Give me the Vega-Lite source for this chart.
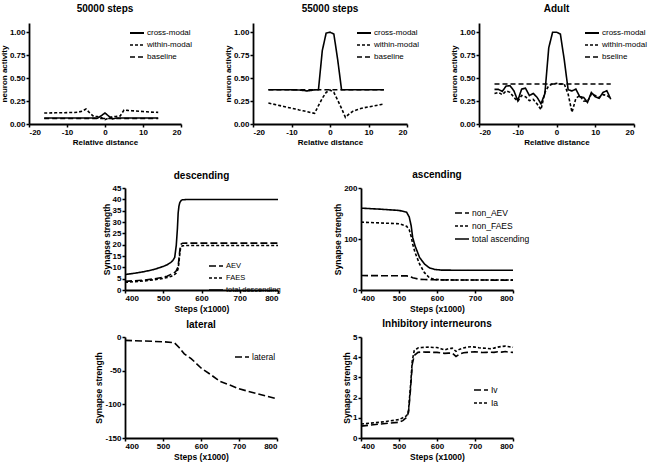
{
  "$schema": "https://vega.github.io/schema/vega-lite/v6.json",
  "padding": {"top": 4, "left": 0, "right": 2, "bottom": 2},
  "background": "white",
  "config": {
    "font": "Liberation Sans",
    "view": {"stroke": null},
    "axis": {"domainColor": "black", "domainWidth": 1.8, "tickColor": "black", "tickWidth": 1.5, "tickSize": 3, "labelColor": "black", "labelFont": "Liberation Sans", "labelFontWeight": "bold", "labelFontSize": 8, "labelPadding": 1, "titleColor": "black", "titleFont": "Liberation Sans", "titleFontWeight": "bold", "titleFontSize": 8.5, "grid": false, "titlePadding": 2},
    "axisY": {"titlePadding": 1},
    "title": {"fontSize": 10, "fontWeight": "bold", "color": "black", "frame": "group", "font": "Liberation Sans"},
    "legend": {"orient": "none", "labelFontSize": 8.5, "labelColor": "black", "labelFont": "Liberation Sans", "symbolType": "stroke", "symbolStrokeColor": "black", "symbolStrokeWidth": 1.5, "symbolSize": 196, "rowPadding": -3, "padding": 0, "labelOffset": 2},
    "line": {"color": "black", "strokeWidth": 1.6}
  },
  "resolve": {"scale": {"strokeDash": "independent", "strokeWidth": "independent"}, "legend": {"strokeDash": "independent"}},
  "spacing": 24,
  "vconcat": [
    {
      "hconcat": [
        {
          "width": 152, "height": 101,
          "title": {"text": "50000 steps", "offset": 9},
          "data": {"values": [
            {"x": -16, "cross-modal": 0.065, "within-modal": 0.12, "baseline": 0.06},
            {"x": -15, "cross-modal": 0.065, "within-modal": 0.12, "baseline": 0.06},
            {"x": -14, "cross-modal": 0.065, "within-modal": 0.121, "baseline": 0.06},
            {"x": -13, "cross-modal": 0.065, "within-modal": 0.122, "baseline": 0.06},
            {"x": -12, "cross-modal": 0.065, "within-modal": 0.122, "baseline": 0.06},
            {"x": -11, "cross-modal": 0.065, "within-modal": 0.123, "baseline": 0.06},
            {"x": -10, "cross-modal": 0.065, "within-modal": 0.124, "baseline": 0.06},
            {"x": -9, "cross-modal": 0.065, "within-modal": 0.125, "baseline": 0.06},
            {"x": -8, "cross-modal": 0.065, "within-modal": 0.126, "baseline": 0.06},
            {"x": -7, "cross-modal": 0.065, "within-modal": 0.13, "baseline": 0.06},
            {"x": -6, "cross-modal": 0.065, "within-modal": 0.14, "baseline": 0.06},
            {"x": -5, "cross-modal": 0.065, "within-modal": 0.163, "baseline": 0.06},
            {"x": -4, "cross-modal": 0.065, "within-modal": 0.12, "baseline": 0.06},
            {"x": -3, "cross-modal": 0.065, "within-modal": 0.083, "baseline": 0.06},
            {"x": -2, "cross-modal": 0.062, "within-modal": 0.08, "baseline": 0.06},
            {"x": -1, "cross-modal": 0.09, "within-modal": 0.07, "baseline": 0.06},
            {"x": 0, "cross-modal": 0.12, "within-modal": 0.047, "baseline": 0.06},
            {"x": 1, "cross-modal": 0.085, "within-modal": 0.065, "baseline": 0.06},
            {"x": 2, "cross-modal": 0.055, "within-modal": 0.08, "baseline": 0.06},
            {"x": 3, "cross-modal": 0.065, "within-modal": 0.083, "baseline": 0.06},
            {"x": 4, "cross-modal": 0.065, "within-modal": 0.088, "baseline": 0.06},
            {"x": 5, "cross-modal": 0.065, "within-modal": 0.152, "baseline": 0.06},
            {"x": 6, "cross-modal": 0.065, "within-modal": 0.148, "baseline": 0.06},
            {"x": 7, "cross-modal": 0.065, "within-modal": 0.145, "baseline": 0.06},
            {"x": 8, "cross-modal": 0.065, "within-modal": 0.142, "baseline": 0.06},
            {"x": 9, "cross-modal": 0.065, "within-modal": 0.139, "baseline": 0.06},
            {"x": 10, "cross-modal": 0.065, "within-modal": 0.136, "baseline": 0.06},
            {"x": 11, "cross-modal": 0.065, "within-modal": 0.133, "baseline": 0.06},
            {"x": 12, "cross-modal": 0.065, "within-modal": 0.13, "baseline": 0.06},
            {"x": 13, "cross-modal": 0.065, "within-modal": 0.128, "baseline": 0.06},
            {"x": 14, "cross-modal": 0.065, "within-modal": 0.127, "baseline": 0.06}
          ]},
          "transform": [{"fold": ["cross-modal", "within-modal", "baseline"], "as": ["series", "y"]}],
          "mark": {"type": "line"},
          "encoding": {
            "x": {"field": "x", "type": "quantitative", "scale": {"domain": [-20, 20], "nice": false}, "axis": {"values": [-20, -10, 0, 10, 20], "title": "Relative distance", "titleFontSize": 8, "labelExpr": "replace(datum.label, '−', '-')"}},
            "y": {"field": "y", "type": "quantitative", "scale": {"domain": [0, 1.1], "nice": false}, "axis": {"values": [0, 0.25, 0.5, 0.75, 1], "format": ".2f", "title": "neuron activity", "titleFontSize": 8}},
            "strokeDash": {"field": "series", "type": "nominal", "scale": {"domain": ["cross-modal", "within-modal", "baseline"], "range": [[1, 0], [3, 2], [5, 3]]}, "legend": {"title": null, "legendX": 100, "legendY": 2, "labelFontSize": 8}},
            "strokeWidth": {"field": "series", "type": "nominal", "scale": {"domain": ["cross-modal", "within-modal", "baseline"], "range": [1.8, 1.6, 1]}, "legend": null}
          }
        },
        {
          "width": 154, "height": 101,
          "title": {"text": "55000 steps", "offset": 9},
          "data": {"values": [
            {"x": -16, "cross-modal": 0.373, "within-modal": 0.228, "baseline": 0.373},
            {"x": -15, "cross-modal": 0.373, "within-modal": 0.219, "baseline": 0.373},
            {"x": -14, "cross-modal": 0.373, "within-modal": 0.209, "baseline": 0.373},
            {"x": -13, "cross-modal": 0.373, "within-modal": 0.2, "baseline": 0.373},
            {"x": -12, "cross-modal": 0.373, "within-modal": 0.191, "baseline": 0.373},
            {"x": -11, "cross-modal": 0.373, "within-modal": 0.181, "baseline": 0.373},
            {"x": -10, "cross-modal": 0.372, "within-modal": 0.172, "baseline": 0.373},
            {"x": -9, "cross-modal": 0.372, "within-modal": 0.163, "baseline": 0.373},
            {"x": -8, "cross-modal": 0.37, "within-modal": 0.153, "baseline": 0.373},
            {"x": -7, "cross-modal": 0.366, "within-modal": 0.144, "baseline": 0.373},
            {"x": -6, "cross-modal": 0.36, "within-modal": 0.135, "baseline": 0.373},
            {"x": -5, "cross-modal": 0.365, "within-modal": 0.125, "baseline": 0.373},
            {"x": -4, "cross-modal": 0.372, "within-modal": 0.116, "baseline": 0.373},
            {"x": -3, "cross-modal": 0.373, "within-modal": 0.2, "baseline": 0.373},
            {"x": -2, "cross-modal": 0.8, "within-modal": 0.28, "baseline": 0.373},
            {"x": -1, "cross-modal": 0.99, "within-modal": 0.344, "baseline": 0.373},
            {"x": 0, "cross-modal": 1.0, "within-modal": 0.37, "baseline": 0.373},
            {"x": 1, "cross-modal": 0.98, "within-modal": 0.344, "baseline": 0.373},
            {"x": 2, "cross-modal": 0.7, "within-modal": 0.26, "baseline": 0.373},
            {"x": 3, "cross-modal": 0.373, "within-modal": 0.17, "baseline": 0.373},
            {"x": 4, "cross-modal": 0.373, "within-modal": 0.072, "baseline": 0.373},
            {"x": 5, "cross-modal": 0.373, "within-modal": 0.11, "baseline": 0.373},
            {"x": 6, "cross-modal": 0.373, "within-modal": 0.14, "baseline": 0.373},
            {"x": 7, "cross-modal": 0.373, "within-modal": 0.155, "baseline": 0.373},
            {"x": 8, "cross-modal": 0.373, "within-modal": 0.168, "baseline": 0.373},
            {"x": 9, "cross-modal": 0.373, "within-modal": 0.178, "baseline": 0.373},
            {"x": 10, "cross-modal": 0.373, "within-modal": 0.186, "baseline": 0.373},
            {"x": 11, "cross-modal": 0.373, "within-modal": 0.194, "baseline": 0.373},
            {"x": 12, "cross-modal": 0.373, "within-modal": 0.202, "baseline": 0.373},
            {"x": 13, "cross-modal": 0.373, "within-modal": 0.21, "baseline": 0.373},
            {"x": 14, "cross-modal": 0.373, "within-modal": 0.217, "baseline": 0.373}
          ]},
          "transform": [{"fold": ["cross-modal", "within-modal", "baseline"], "as": ["series", "y"]}],
          "mark": {"type": "line"},
          "encoding": {
            "x": {"field": "x", "type": "quantitative", "scale": {"domain": [-20, 20], "nice": false}, "axis": {"values": [-20, -10, 0, 10, 20], "title": "Relative distance", "titleFontSize": 8, "labelExpr": "replace(datum.label, '−', '-')"}},
            "y": {"field": "y", "type": "quantitative", "scale": {"domain": [0, 1.1], "nice": false}, "axis": {"values": [0, 0.25, 0.5, 0.75, 1], "format": ".2f", "title": "neuron activity", "titleFontSize": 8}},
            "strokeDash": {"field": "series", "type": "nominal", "scale": {"domain": ["cross-modal", "within-modal", "baseline"], "range": [[1, 0], [3, 2], [5, 3]]}, "legend": {"title": null, "legendX": 103, "legendY": 2, "labelFontSize": 8}},
            "strokeWidth": {"field": "series", "type": "nominal", "scale": {"domain": ["cross-modal", "within-modal", "baseline"], "range": [1.8, 1.6, 1]}, "legend": null}
          }
        },
        {
          "width": 155, "height": 101,
          "title": {"text": "Adult", "offset": 9},
          "data": {"values": [
            {"x": -16, "cross-modal": 0.377, "within-modal": 0.333, "bseline": 0.435},
            {"x": -15, "cross-modal": 0.377, "within-modal": 0.344, "bseline": 0.435},
            {"x": -14, "cross-modal": 0.355, "within-modal": 0.32, "bseline": 0.435},
            {"x": -13, "cross-modal": 0.413, "within-modal": 0.36, "bseline": 0.435},
            {"x": -12, "cross-modal": 0.417, "within-modal": 0.345, "bseline": 0.435},
            {"x": -11, "cross-modal": 0.362, "within-modal": 0.29, "bseline": 0.435},
            {"x": -10, "cross-modal": 0.254, "within-modal": 0.246, "bseline": 0.435},
            {"x": -9, "cross-modal": 0.38, "within-modal": 0.31, "bseline": 0.435},
            {"x": -8, "cross-modal": 0.39, "within-modal": 0.297, "bseline": 0.435},
            {"x": -7, "cross-modal": 0.31, "within-modal": 0.254, "bseline": 0.435},
            {"x": -6, "cross-modal": 0.333, "within-modal": 0.268, "bseline": 0.435},
            {"x": -5, "cross-modal": 0.29, "within-modal": 0.217, "bseline": 0.435},
            {"x": -4, "cross-modal": 0.22, "within-modal": 0.156, "bseline": 0.435},
            {"x": -3, "cross-modal": 0.33, "within-modal": 0.344, "bseline": 0.435},
            {"x": -2, "cross-modal": 0.83, "within-modal": 0.417, "bseline": 0.435},
            {"x": -1, "cross-modal": 1.0, "within-modal": 0.435, "bseline": 0.435},
            {"x": 0, "cross-modal": 1.0, "within-modal": 0.442, "bseline": 0.435},
            {"x": 1, "cross-modal": 0.98, "within-modal": 0.435, "bseline": 0.435},
            {"x": 2, "cross-modal": 0.7, "within-modal": 0.435, "bseline": 0.435},
            {"x": 3, "cross-modal": 0.373, "within-modal": 0.326, "bseline": 0.435},
            {"x": 4, "cross-modal": 0.36, "within-modal": 0.127, "bseline": 0.435},
            {"x": 5, "cross-modal": 0.38, "within-modal": 0.28, "bseline": 0.435},
            {"x": 6, "cross-modal": 0.297, "within-modal": 0.31, "bseline": 0.435},
            {"x": 7, "cross-modal": 0.29, "within-modal": 0.25, "bseline": 0.435},
            {"x": 8, "cross-modal": 0.235, "within-modal": 0.246, "bseline": 0.435},
            {"x": 9, "cross-modal": 0.344, "within-modal": 0.326, "bseline": 0.435},
            {"x": 10, "cross-modal": 0.297, "within-modal": 0.31, "bseline": 0.435},
            {"x": 11, "cross-modal": 0.28, "within-modal": 0.29, "bseline": 0.435},
            {"x": 12, "cross-modal": 0.344, "within-modal": 0.32, "bseline": 0.435},
            {"x": 13, "cross-modal": 0.362, "within-modal": 0.31, "bseline": 0.435},
            {"x": 14, "cross-modal": 0.27, "within-modal": 0.28, "bseline": 0.435}
          ]},
          "transform": [{"fold": ["cross-modal", "within-modal", "bseline"], "as": ["series", "y"]}],
          "mark": {"type": "line"},
          "encoding": {
            "x": {"field": "x", "type": "quantitative", "scale": {"domain": [-20, 20], "nice": false}, "axis": {"values": [-20, -10, 0, 10, 20], "title": "Relative distance", "titleFontSize": 8, "labelExpr": "replace(datum.label, '−', '-')"}},
            "y": {"field": "y", "type": "quantitative", "scale": {"domain": [0, 1.1], "nice": false}, "axis": {"values": [0, 0.25, 0.5, 0.75, 1], "format": ".2f", "title": "neuron activity", "titleFontSize": 8}},
            "strokeDash": {"field": "series", "type": "nominal", "scale": {"domain": ["cross-modal", "within-modal", "bseline"], "range": [[1, 0], [3, 2], [5, 3]]}, "legend": {"title": null, "legendX": 105, "legendY": 2, "labelFontSize": 8}},
            "strokeWidth": {"field": "series", "type": "nominal", "scale": {"domain": ["cross-modal", "within-modal", "bseline"], "range": [1.8, 1.6, 1]}, "legend": null}
          }
        }
      ],
      "spacing": 72,
      "bounds": "flush",
      "resolve": {"scale": {"strokeDash": "independent", "strokeWidth": "independent"}, "legend": {"strokeDash": "independent"}}
    },
    {
      "hconcat": [
        {"width": 14, "height": 10, "data": {"values": []}, "mark": "rule", "encoding": {}},
        {
          "vconcat": [
            {
              "width": 153, "height": 102,
              "title": {"text": "descending", "offset": 3},
              "data": {"values": [
                {"x": 400, "AEV": 3.8, "FAES": 3.4, "total descending": 6.8},
                {"x": 425, "AEV": 4.1, "FAES": 3.7, "total descending": 7.4},
                {"x": 450, "AEV": 4.4, "FAES": 4.0, "total descending": 8.1},
                {"x": 475, "AEV": 4.9, "FAES": 4.5, "total descending": 9.0},
                {"x": 500, "AEV": 5.6, "FAES": 5.1, "total descending": 10.4},
                {"x": 510, "AEV": 6.1, "FAES": 5.5, "total descending": 11.1},
                {"x": 520, "AEV": 6.9, "FAES": 6.0, "total descending": 12.2},
                {"x": 525, "AEV": 7.3, "FAES": 6.4, "total descending": 13.0},
                {"x": 530, "AEV": 7.8, "FAES": 6.9, "total descending": 14.4},
                {"x": 534, "AEV": 8.5, "FAES": 7.5, "total descending": 19.6},
                {"x": 537, "AEV": 9.5, "FAES": 8.5, "total descending": 27},
                {"x": 539, "AEV": 10.5, "FAES": 9.5, "total descending": 34},
                {"x": 541, "AEV": 13.7, "FAES": 12.2, "total descending": 37},
                {"x": 543, "AEV": 17, "FAES": 15.5, "total descending": 38.4},
                {"x": 545, "AEV": 19.3, "FAES": 18.2, "total descending": 39.1},
                {"x": 547, "AEV": 20.3, "FAES": 19.1, "total descending": 39.5},
                {"x": 550, "AEV": 20.6, "FAES": 19.5, "total descending": 39.8},
                {"x": 560, "AEV": 20.7, "FAES": 19.6, "total descending": 39.9},
                {"x": 600, "AEV": 20.7, "FAES": 19.6, "total descending": 39.9},
                {"x": 700, "AEV": 20.7, "FAES": 19.6, "total descending": 39.9},
                {"x": 800, "AEV": 20.7, "FAES": 19.6, "total descending": 39.9}
              ]},
              "transform": [{"fold": ["AEV", "FAES", "total descending"], "as": ["series", "y"]}],
              "mark": {"type": "line", "strokeWidth": 1.6},
              "encoding": {
                "x": {"field": "x", "type": "quantitative", "scale": {"domain": [400, 800], "nice": false}, "axis": {"values": [400, 500, 600, 700, 800], "title": "Steps (x1000)"}},
                "y": {"field": "y", "type": "quantitative", "scale": {"domain": [0, 45], "nice": false}, "axis": {"values": [0, 5, 10, 15, 20, 25, 30, 35, 40, 45], "title": "Synapse strength"}},
                "strokeDash": {"field": "series", "type": "nominal", "scale": {"domain": ["AEV", "FAES", "total descending"], "range": [[7, 3], [3, 2], [1, 0]]}, "legend": {"title": null, "legendX": 83, "legendY": 70, "labelFontSize": 7.5}}
              }
            },
            {
              "width": 152, "height": 101,
              "title": {"text": "lateral", "offset": 3},
              "data": {"values": [
                {"x": 400, "lateral": -5},
                {"x": 450, "lateral": -6},
                {"x": 500, "lateral": -7},
                {"x": 530, "lateral": -8.5},
                {"x": 543, "lateral": -16},
                {"x": 556, "lateral": -25},
                {"x": 574, "lateral": -32},
                {"x": 600, "lateral": -46},
                {"x": 626, "lateral": -56},
                {"x": 650, "lateral": -66},
                {"x": 679, "lateral": -72},
                {"x": 700, "lateral": -77},
                {"x": 750, "lateral": -84.5},
                {"x": 800, "lateral": -92}
              ]},
              "transform": [{"fold": ["lateral"], "as": ["series", "y"]}],
              "mark": {"type": "line", "strokeWidth": 1.6},
              "encoding": {
                "x": {"field": "x", "type": "quantitative", "scale": {"domain": [400, 800], "nice": false}, "axis": {"values": [400, 500, 600, 700, 800], "title": "Steps (x1000)"}},
                "y": {"field": "y", "type": "quantitative", "scale": {"domain": [-150, 0], "nice": false}, "axis": {"values": [-150, -100, -50, 0], "title": "Synapse strength", "labelExpr": "replace(datum.label, '−', '-')"}},
                "strokeDash": {"field": "series", "type": "nominal", "scale": {"domain": ["lateral"], "range": [[7, 3]]}, "legend": {"title": null, "legendX": 109, "legendY": 12}}
              }
            }
          ],
          "spacing": 47,
          "bounds": "flush",
          "resolve": {"scale": {"strokeDash": "independent"}, "legend": {"strokeDash": "independent"}}
        },
        {
          "vconcat": [
            {
              "width": 152, "height": 102,
              "title": {"text": "ascending", "offset": 4},
              "data": {"values": [
                {"x": 400, "non_AEV": 28.3, "non_FAES": 133, "total ascending": 160.5},
                {"x": 450, "non_AEV": 28.1, "non_FAES": 131.5, "total ascending": 158.5},
                {"x": 500, "non_AEV": 27.8, "non_FAES": 130, "total ascending": 156},
                {"x": 520, "non_AEV": 27.6, "non_FAES": 125, "total ascending": 152.6},
                {"x": 527, "non_AEV": 27, "non_FAES": 118, "total ascending": 143},
                {"x": 532, "non_AEV": 25.5, "non_FAES": 105, "total ascending": 126},
                {"x": 536, "non_AEV": 24, "non_FAES": 90, "total ascending": 103},
                {"x": 542, "non_AEV": 23, "non_FAES": 74, "total ascending": 87},
                {"x": 554, "non_AEV": 21, "non_FAES": 51, "total ascending": 64},
                {"x": 567, "non_AEV": 20.5, "non_FAES": 34, "total ascending": 51},
                {"x": 580, "non_AEV": 20.2, "non_FAES": 24, "total ascending": 43.5},
                {"x": 593, "non_AEV": 20, "non_FAES": 21, "total ascending": 40.5},
                {"x": 611, "non_AEV": 19.8, "non_FAES": 20, "total ascending": 39},
                {"x": 650, "non_AEV": 19.6, "non_FAES": 19.7, "total ascending": 38.8},
                {"x": 700, "non_AEV": 19.5, "non_FAES": 19.6, "total ascending": 38.8},
                {"x": 800, "non_AEV": 19.4, "non_FAES": 19.5, "total ascending": 38.8}
              ]},
              "transform": [{"fold": ["non_AEV", "non_FAES", "total ascending"], "as": ["series", "y"]}],
              "mark": {"type": "line", "strokeWidth": 1.6},
              "encoding": {
                "x": {"field": "x", "type": "quantitative", "scale": {"domain": [400, 800], "nice": false}, "axis": {"values": [400, 500, 600, 700, 800], "title": "Steps (x1000)"}},
                "y": {"field": "y", "type": "quantitative", "scale": {"domain": [0, 200], "nice": false}, "axis": {"values": [0, 100, 200], "title": "Synapse strength"}},
                "strokeDash": {"field": "series", "type": "nominal", "scale": {"domain": ["non_AEV", "non_FAES", "total ascending"], "range": [[7, 3], [3, 2], [1, 0]]}, "legend": {"title": null, "legendX": 93, "legendY": 17}}
              }
            },
            {
              "width": 152, "height": 101,
              "title": {"text": "Inhibitory interneurons", "offset": 4},
              "data": {"values": [
                {"x": 400, "Iv": 0.59, "Ia": 0.69},
                {"x": 450, "Iv": 0.69, "Ia": 0.78},
                {"x": 500, "Iv": 0.78, "Ia": 0.91},
                {"x": 510, "Iv": 0.86, "Ia": 1.0},
                {"x": 520, "Iv": 1.02, "Ia": 1.1},
                {"x": 525, "Iv": 1.27, "Ia": 1.35},
                {"x": 530, "Iv": 2.34, "Ia": 2.5},
                {"x": 535, "Iv": 3.66, "Ia": 3.83},
                {"x": 540, "Iv": 4.08, "Ia": 4.32},
                {"x": 550, "Iv": 4.24, "Ia": 4.46},
                {"x": 560, "Iv": 4.26, "Ia": 4.48},
                {"x": 570, "Iv": 4.25, "Ia": 4.49},
                {"x": 580, "Iv": 4.25, "Ia": 4.5},
                {"x": 590, "Iv": 4.24, "Ia": 4.48},
                {"x": 600, "Iv": 4.24, "Ia": 4.48},
                {"x": 610, "Iv": 4.22, "Ia": 4.42},
                {"x": 620, "Iv": 4.19, "Ia": 4.36},
                {"x": 630, "Iv": 4.2, "Ia": 4.42},
                {"x": 640, "Iv": 4.2, "Ia": 4.45},
                {"x": 650, "Iv": 4.04, "Ia": 4.29},
                {"x": 660, "Iv": 4.16, "Ia": 4.4},
                {"x": 670, "Iv": 4.22, "Ia": 4.46},
                {"x": 680, "Iv": 4.24, "Ia": 4.5},
                {"x": 690, "Iv": 4.26, "Ia": 4.52},
                {"x": 700, "Iv": 4.27, "Ia": 4.5},
                {"x": 710, "Iv": 4.25, "Ia": 4.47},
                {"x": 720, "Iv": 4.23, "Ia": 4.45},
                {"x": 730, "Iv": 4.24, "Ia": 4.44},
                {"x": 740, "Iv": 4.25, "Ia": 4.42},
                {"x": 750, "Iv": 4.24, "Ia": 4.45},
                {"x": 760, "Iv": 4.27, "Ia": 4.5},
                {"x": 770, "Iv": 4.25, "Ia": 4.53},
                {"x": 780, "Iv": 4.28, "Ia": 4.55},
                {"x": 790, "Iv": 4.25, "Ia": 4.52},
                {"x": 800, "Iv": 4.24, "Ia": 4.49}
              ]},
              "transform": [{"fold": ["Iv", "Ia"], "as": ["series", "y"]}],
              "mark": {"type": "line", "strokeWidth": 1.6},
              "encoding": {
                "x": {"field": "x", "type": "quantitative", "scale": {"domain": [400, 800], "nice": false}, "axis": {"values": [400, 500, 600, 700, 800], "title": "Steps (x1000)"}},
                "y": {"field": "y", "type": "quantitative", "scale": {"domain": [0, 5], "nice": false}, "axis": {"values": [0, 1, 2, 3, 4, 5], "title": "Synapse strength"}},
                "strokeDash": {"field": "series", "type": "nominal", "scale": {"domain": ["Iv", "Ia"], "range": [[7, 3], [3, 2]]}, "legend": {"title": null, "legendX": 112, "legendY": 45}}
              }
            }
          ],
          "spacing": 47,
          "bounds": "flush",
          "resolve": {"scale": {"strokeDash": "independent"}, "legend": {"strokeDash": "independent"}}
        }
      ],
      "spacing": 51,
      "resolve": {"scale": {"strokeDash": "independent"}, "legend": {"strokeDash": "independent"}}
    }
  ]
}
